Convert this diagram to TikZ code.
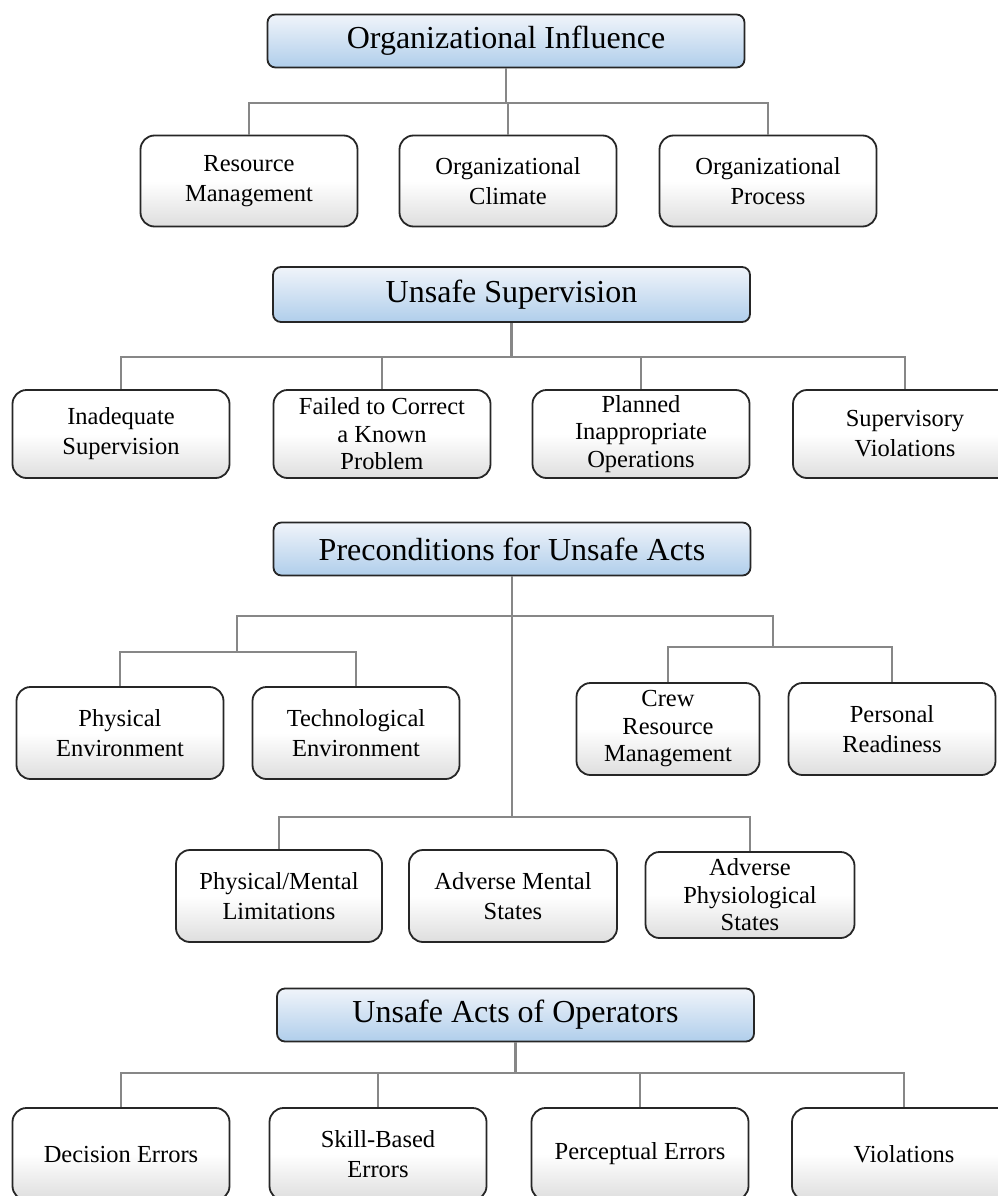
\documentclass[tikz,border=0pt]{standalone}
\usepackage{fontspec}
\setmainfont{Liberation Serif}
\usepackage{tikz}
\usetikzlibrary{positioning}
\usetikzlibrary{shapes,calc,backgrounds}
\usepackage{xcolor}

\definecolor{headtop}{RGB}{240,244,250}
\definecolor{headbot}{RGB}{176,206,235}
\definecolor{boxbot}{RGB}{222,222,222}
\definecolor{linkgray}{RGB}{135,135,135}

\begin{document}
\begin{tikzpicture}[x=1pt,y=-1pt,
  head/.style={draw=black!85, line width=1.8pt, rounded corners=8pt, top color=headtop, bottom color=headbot,
    minimum width=477pt, minimum height=53pt, inner sep=2pt, font=\fontsize{32}{36}\selectfont},
  leaf/.style={draw=black!85, line width=1.8pt, rounded corners=14pt, top color=white, bottom color=boxbot, middle color=white,
    minimum width=217pt, minimum height=91pt, inner sep=2pt, align=center, font=\fontsize{24.5}{30}\selectfont},
  tight/.style={font=\fontsize{24.5}{27.5}\selectfont},
  link/.style={draw=linkgray, line width=2.2pt}]

\useasboundingbox (0,0) rectangle (998,1196);

\node[head] (oi) at (506,41) {Organizational Influence};

\node[leaf] (rm) at (249,181) {Resource\\Management};
\node[leaf] (oc) at (508,181) {Organizational\\Climate};
\node[leaf] (op) at (768,181) {Organizational\\Process};

\coordinate (orgbus) at (0,103);

\draw[link] (rm.north) -- (rm.north |- orgbus) -- (op.north |- orgbus) -- (op.north);
\draw[link] (oi.south) -- (oi.south |- orgbus);
\draw[link] (oc.north) -- (oc.north |- orgbus);

\node[head, minimum height=55pt] (us) at (511.5,294.5) {Unsafe Supervision};

\node[leaf, minimum height=88pt] (is) at (121,434) {Inadequate\\Supervision};
\node[leaf, tight, minimum height=88pt] (fc) at (382,434) {Failed to Correct\\a Known\\Problem};
\node[leaf, tight, minimum height=88pt] (pi) at (641,434) {Planned\\Inappropriate\\Operations};
\node[leaf, minimum height=88pt, minimum width=224pt] (sv) at (905,434) {Supervisory\\Violations};

\coordinate (supbus) at (0,357);

\draw[link] (is.north) -- (is.north |- supbus) -- (sv.north |- supbus) -- (sv.north);
\draw[link] (us.south) -- (us.south |- supbus);
\draw[link] (fc.north) -- (fc.north |- supbus);
\draw[link] (pi.north) -- (pi.north |- supbus);

\node[head] (pc) at (512,549) {Preconditions for Unsafe Acts};

\node[leaf, minimum width=207pt, minimum height=92pt] (pe) at (120,733) {Physical\\Environment};
\node[leaf, minimum width=207pt, minimum height=92pt] (te) at (356,733) {Technological\\Environment};
\node[leaf, tight, minimum width=183pt, minimum height=92pt] (cr) at (668,729) {Crew\\Resource\\Management};
\node[leaf, minimum width=207pt, minimum height=92pt] (pr) at (892,729) {Personal\\Readiness};

\node[leaf, minimum width=206pt, minimum height=92pt] (pm) at (279,896) {Physical/Mental\\Limitations};
\node[leaf, minimum width=208pt, minimum height=92pt] (am) at (513,896) {Adverse Mental\\States};
\node[leaf, tight, minimum width=209pt, minimum height=86pt] (ap) at (750,895) {Adverse\\Physiological\\States};

\coordinate (prebus) at (0,616);
\coordinate (envbus) at (237,652);
\coordinate (crewbus) at (773,647);
\coordinate (lowbus) at (0,817);

\draw[link] (pc.south) -- (pc.south |- lowbus);
\draw[link] (envbus) -- (envbus |- prebus) -- (crewbus |- prebus) -- (crewbus);
\draw[link] (pe.north) -- (pe.north |- envbus) -- (te.north |- envbus) -- (te.north);
\draw[link] (cr.north) -- (cr.north |- crewbus) -- (pr.north |- crewbus) -- (pr.north);
\draw[link] (pm.north) -- (pm.north |- lowbus) -- (ap.north |- lowbus) -- (ap.north);

\node[head] (ua) at (515.5,1015) {Unsafe Acts of Operators};

\node[leaf, minimum height=92pt] (de) at (121,1154) {Decision Errors};
\node[leaf, minimum height=92pt] (sb) at (378,1154) {Skill-Based\\Errors};
\node[leaf, minimum height=92pt] (pe2) at (640,1154) {Perceptual Errors};
\node[leaf, minimum height=92pt, minimum width=224pt] (vi) at (904,1154) {Violations};

\coordinate (actbus) at (0,1073);

\draw[link] (de.north) -- (de.north |- actbus) -- (vi.north |- actbus) -- (vi.north);
\draw[link] (ua.south) -- (ua.south |- actbus);
\draw[link] (sb.north) -- (sb.north |- actbus);
\draw[link] (pe2.north) -- (pe2.north |- actbus);

\end{tikzpicture}
\end{document}
